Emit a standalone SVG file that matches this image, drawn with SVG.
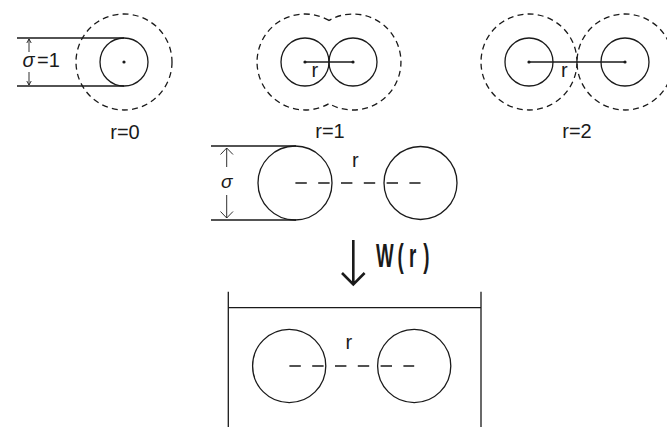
<svg xmlns="http://www.w3.org/2000/svg" width="667" height="429" viewBox="0 0 667 429">
  <style>
    .solid { fill: none; stroke: #1a1a1a; stroke-width: 1.3; }
    .halo { fill: none; stroke: #1a1a1a; stroke-width: 1.3; stroke-dasharray: 6 4.2; }
    .line { fill: none; stroke: #1a1a1a; stroke-width: 1.3; }
    .dim { fill: none; stroke: #1a1a1a; stroke-width: 0.9; }
    .dash { fill: none; stroke: #1a1a1a; stroke-width: 1.6; stroke-dasharray: 11.4 11.4; }
    .dot { fill: #1a1a1a; }
    .lbl { font-family: "Liberation Sans", Arial, sans-serif; font-size: 20px; fill: #1a1a1a; }
    .sig { font-family: "Liberation Sans", Arial, sans-serif; font-style: italic; fill: #1a1a1a; }
  </style>

  <!-- r = 0 : single sphere with its interaction shell -->
  <g id="state-r0">
    <line class="line" x1="17" y1="38" x2="124" y2="38"/>
    <line class="line" x1="17" y1="86" x2="124" y2="86"/>
    <circle class="solid" cx="124" cy="62" r="24"/>
    <circle class="halo" cx="124" cy="62" r="48"/>
    <circle class="dot" cx="124" cy="62" r="1.6"/>
    <path class="dim" d="M29 39 V52 M26.8 43 L29 39 L31.2 43 M29 85 V72 M26.8 81 L29 85 L31.2 81"/>
    <text class="sig" x="22.5" y="67" font-size="20">σ</text>
    <text class="lbl" x="37" y="67" font-size="19">=1</text>
    <text class="lbl" x="125" y="139" text-anchor="middle">r=0</text>
  </g>

  <!-- r = 1 : two touching spheres, merged shell -->
  <g id="state-r1">
    <path class="halo" d="M329 20.4 A48 48 0 1 0 329 103.6 A48 48 0 1 0 329 20.4 Z"/>
    <circle class="solid" cx="305" cy="62" r="24"/>
    <circle class="solid" cx="353" cy="62" r="24"/>
    <line class="line" x1="305" y1="62" x2="353" y2="62"/>
    <circle class="dot" cx="305" cy="62" r="1.6"/>
    <circle class="dot" cx="353" cy="62" r="1.6"/>
    <text class="lbl" x="311.5" y="77">r</text>
    <text class="lbl" x="330" y="138" text-anchor="middle">r=1</text>
  </g>

  <!-- r = 2 : separated spheres, shells just touching -->
  <g id="state-r2">
    <circle class="halo" cx="529" cy="62" r="48"/>
    <circle class="halo" cx="625" cy="62" r="48"/>
    <circle class="solid" cx="529" cy="62" r="24"/>
    <circle class="solid" cx="625" cy="62" r="24"/>
    <line class="line" x1="529" y1="62" x2="625" y2="62"/>
    <circle class="dot" cx="529" cy="62" r="1.6"/>
    <circle class="dot" cx="625" cy="62" r="1.6"/>
    <text class="lbl" x="561" y="77">r</text>
    <text class="lbl" x="577" y="138" text-anchor="middle">r=2</text>
  </g>

  <!-- pair of hard spheres at distance r -->
  <g id="pair">
    <line class="line" x1="211" y1="146" x2="296" y2="146"/>
    <line class="line" x1="211" y1="220" x2="296" y2="220"/>
    <circle class="solid" cx="295" cy="183" r="37"/>
    <circle class="solid" cx="420.5" cy="183" r="36.5"/>
    <line class="dash" x1="284" y1="183" x2="420.5" y2="183" stroke-dashoffset="-11.4"/>
    <path class="dim" d="M226.7 148 V167 M220.5 154.5 L226.7 148 L233 154.5 M226.7 218 V195 M220.5 211.5 L226.7 218 L233 211.5"/>
    <text class="sig" x="221" y="188" font-size="19">σ</text>
    <text class="lbl" x="352" y="167">r</text>
  </g>

  <!-- weighting step -->
  <g id="weight">
    <path fill="none" stroke="#1a1a1a" stroke-width="2.6" d="M353.3 240 V284 M342 273 L353.3 284.5 L364.6 273"/>
    <g transform="translate(376.5 266.7) scale(0.55 1)">
      <text font-family="'Liberation Sans', Arial, sans-serif" font-size="34" font-weight="bold" fill="#1a1a1a"><tspan x="-1">W</tspan><tspan x="38">(</tspan><tspan x="59">r</tspan><tspan x="85">)</tspan></text>
    </g>
  </g>

  <!-- weighted pair inside the container -->
  <g id="weighted-pair">
    <line class="line" x1="228.3" y1="307.7" x2="481" y2="307.7"/>
    <line class="line" x1="228.3" y1="291.7" x2="228.3" y2="427"/>
    <line class="line" x1="481" y1="291.7" x2="481" y2="427"/>
    <circle class="solid" cx="289.2" cy="366" r="36.6"/>
    <circle class="solid" cx="414.2" cy="366" r="36.6"/>
    <line class="dash" x1="278" y1="366" x2="414.2" y2="366" stroke-dashoffset="-11.4"/>
    <text class="lbl" x="345.5" y="349">r</text>
  </g>
</svg>
